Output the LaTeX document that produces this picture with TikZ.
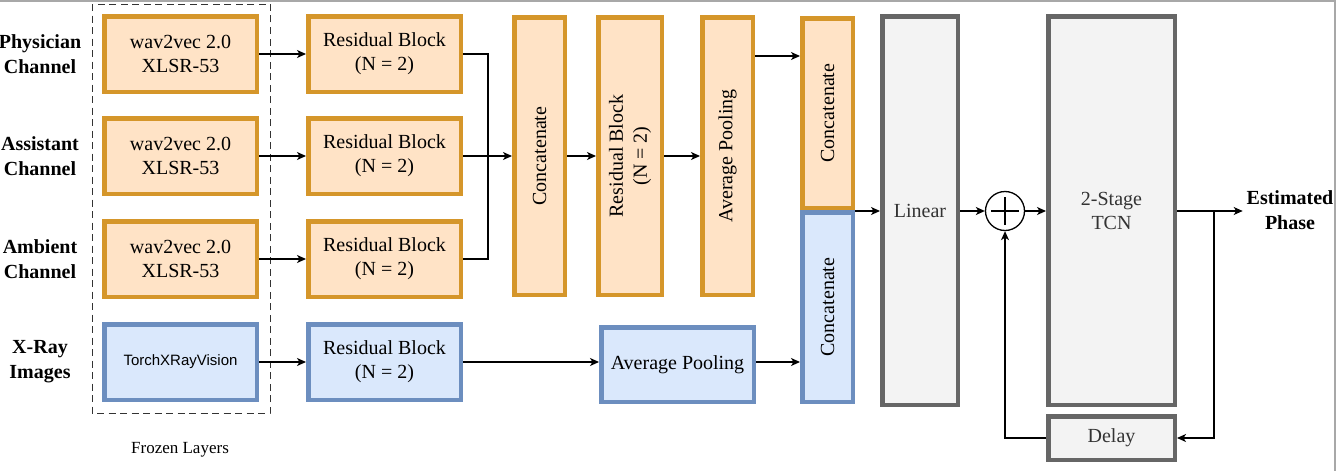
\documentclass[tikz,border=0pt]{standalone}
\usepackage{fontspec}
\setmainfont{Liberation Serif}
\newfontfamily\xraysans{Liberation Sans}
\usepackage{tikz}
\usetikzlibrary{arrows.meta}
\usetikzlibrary{positioning}
\definecolor{OrangeLine}{HTML}{D5962A}
\definecolor{OrangeFill}{HTML}{FFE3C6}
\definecolor{BlueLine}{HTML}{6C8EBF}
\definecolor{BlueFill}{HTML}{DAE8FC}
\definecolor{GrayLine}{HTML}{666666}
\definecolor{GrayFill}{HTML}{F3F3F3}
\definecolor{GrayText}{HTML}{333333}
\definecolor{ScreenEdge}{HTML}{A8A8A8}
\tikzstyle{block} = [draw,rectangle,line width=4.5pt,align=center,inner sep=2pt,font=\fontsize{20}{24}\selectfont]
\tikzstyle{audio} = [block,draw=OrangeLine,fill=OrangeFill]
\tikzstyle{image} = [block,draw=BlueLine,fill=BlueFill]
\tikzstyle{head}  = [block,draw=GrayLine,fill=GrayFill,text=GrayText]
\tikzstyle{wide}  = [minimum width=152.5pt,minimum height=75.5pt]
\tikzstyle{chan}  = [align=center,font=\bfseries\fontsize{20}{25}\selectfont]

\begin{document}
\begin{tikzpicture}[x=1pt,y=-1pt,>={Stealth[length=9pt,width=8pt,inset=2.5pt]},line width=1.3pt]
\useasboundingbox (0,0) rectangle (1338,471);
\draw[ScreenEdge,line width=2.5pt] (0,1) -- (1335,1) -- (1335,471);

% encoders
\node[audio,wide] (W1) at (180.5,54) {wav2vec 2.0\\XLSR-53};
\node[audio,wide] (W2) [below=22pt of W1] {wav2vec 2.0\\XLSR-53};
\node[audio,wide] (W3) [below=23pt of W2] {wav2vec 2.0\\XLSR-53};
\node[image,wide,font=\xraysans\fontsize{15}{18}\selectfont] (TX) [below=23pt of W3] {TorchXRayVision};

\draw[GrayText,line width=1pt,dash pattern=on 7pt off 4.5pt] (92,4) rectangle (270,413);
\node[font=\fontsize{17}{20}\selectfont] (FL) at (180,450) {Frozen Layers};

\coordinate (LX) at (40,0);
\node[chan] (L1) at (LX |- W1) {Physician\\Channel};
\node[chan] (L2) at (LX |- W2) {Assistant\\Channel};
\node[chan] (L3) at (LX |- W3) {Ambient\\Channel};
\node[chan] (L4) at (LX |- TX) {X-Ray\\Images};

% residual blocks
\node[audio,wide] (R1) [right=47pt of W1] {Residual Block\\(N = 2)};
\node[audio,wide] (R2) [right=47pt of W2] {Residual Block\\(N = 2)};
\node[audio,wide] (R3) [right=47pt of W3] {Residual Block\\(N = 2)};
\node[image,wide] (R4) [right=47pt of TX] {Residual Block\\(N = 2)};

% fusion
\node[audio,rotate=90,minimum width=277.5pt,minimum height=50.5pt] (C1) at (539.5,156) {Concatenate};
\node[audio,rotate=90,minimum width=277.5pt,minimum height=63.5pt] (RB) at (630,156) {Residual Block\\(N = 2)};
\node[audio,rotate=90,minimum width=277.5pt,minimum height=50.5pt] (AP1) at (727.5,156) {Average Pooling};
\node[image,minimum width=152.5pt,minimum height=74.5pt] (AP2) at (677.5,364.5) {Average Pooling};
\node[audio,rotate=90,minimum width=189.5pt,minimum height=50.5pt] (CC1) at (827.5,113) {Concatenate};
\node[image,rotate=90,minimum width=189.5pt,minimum height=50.5pt] (CC2) at (827.5,307) {Concatenate};

% head
\node[head,minimum width=75.5pt,minimum height=388.5pt] (LIN) at (920,210.5) {Linear};
\node[circle,draw,fill=white,minimum size=39pt,inner sep=0pt,
  path picture={\draw ([xshift=-14pt]path picture bounding box.center) -- ([xshift=14pt]path picture bounding box.center)
  ([yshift=-14pt]path picture bounding box.center) -- ([yshift=14pt]path picture bounding box.center);}] (SUM) at (1005,211) {};
\node[head,minimum width=126.5pt,minimum height=388.5pt] (TCN) at (1111.5,210.5) {2-Stage\\TCN};
\node[head,minimum width=126.5pt,minimum height=43.5pt] (DLY) [below=7pt of TCN] {Delay};
\node[chan] (EST) at (1290,210) {Estimated\\Phase};

\draw[->] (W1) -- (R1);
\draw[->] (W2) -- (R2);
\draw[->] (W3) -- (R3);
\draw[->] (TX) -- (R4);

\coordinate (J) at (488,157);
\draw (R1.east) -| (J) |- (R3.east);
\draw[->] (R2.east) -- (R2.east -| C1.north);
\draw[->] (C1.south) -- (RB.north);
\draw[->] (RB.south) -- (AP1.north);
\draw[->] (AP1.south |- 0,56) -- (CC1.north |- 0,56);
\draw[->] (R4.east) -- (R4.east -| AP2.west);
\draw[->] (R4.east -| AP2.east) -- (R4.east -| CC2.north);

\draw[->] (CC1.south west |- SUM) -- (LIN.west |- SUM);
\draw[->] (LIN.east |- SUM) -- (SUM.west);
\draw[->] (SUM.east) -- (TCN.west |- SUM);
\draw[->] (TCN.east |- SUM) -- (EST.west |- SUM);
\coordinate (B) at (1214,211);
\draw[->] (B) |- (DLY.east);
\draw[->] (DLY.west) -| (SUM.south);

\end{tikzpicture}
\end{document}
